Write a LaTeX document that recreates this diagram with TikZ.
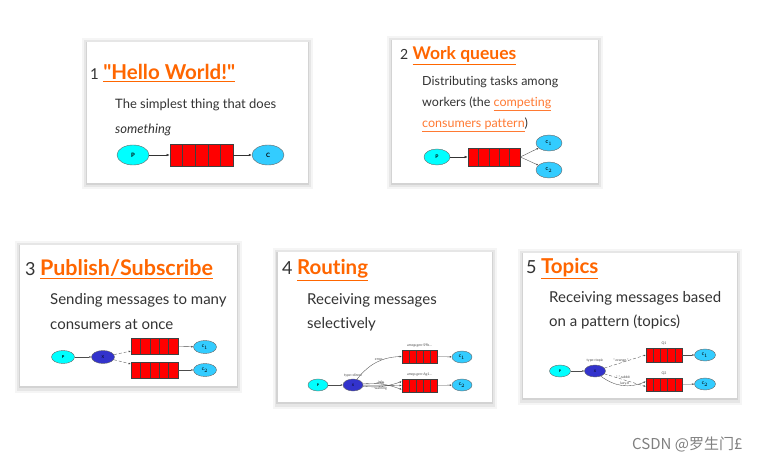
\documentclass[tikz,border=0pt]{standalone}
\usepackage{fontspec}
\setmainfont{Lato}[Ligatures=NoCommon]
\newfontfamily\headfont{Lato}[Ligatures=NoCommon]
\newfontfamily\cjkfont{Noto Sans CJK SC}
\usepackage{tikz}
\usetikzlibrary{positioning, shapes.geometric, calc, arrows.meta}

\definecolor{titleorange}{HTML}{FF6600}
\definecolor{linkorange}{HTML}{FF7A33}
\definecolor{bodytext}{HTML}{333333}
\definecolor{prodcyan}{HTML}{00FFFF}
\definecolor{conscyan}{HTML}{33CCFF}
\definecolor{exchblue}{HTML}{3333CC}
\definecolor{queuered}{HTML}{FF0000}

\begin{document}
\begin{tikzpicture}[x=1pt, y=-1pt]
        % Setup the styles for the cards and the small diagrams
        \tikzset{card/.style={fill=white, inner sep=0pt,
                              preaction={draw=black, line width=10pt, opacity=.04,
                                         transform canvas={yshift=-1.5pt}},
                              preaction={draw=black, line width=6pt, opacity=.06,
                                         transform canvas={yshift=-1.5pt}},
                              preaction={draw=black, line width=2.5pt, opacity=.08,
                                         transform canvas={yshift=-1pt}}},
                 num/.style={anchor=base west, inner sep=0pt, text=bodytext,
                             font=\fontsize{#1}{#1}\selectfont},
                 heading/.style={inner sep=0pt, text=titleorange,
                                 font=\fontsize{#1}{#1}\headfont\bfseries},
                 body/.style={anchor=base west, inner sep=0pt, text=bodytext,
                              font=\fontsize{#1}{#1}\selectfont},
                 proc/.style={ellipse, draw=black!60, fill=prodcyan, inner sep=0pt,
                              font=\fontsize{#1}{#1}\selectfont\bfseries},
                 cons/.style={ellipse, draw=black!60, fill=conscyan, inner sep=0pt,
                              font=\fontsize{#1}{#1}\selectfont\bfseries},
                 exch/.style={ellipse, draw=black!60, fill=exchblue, inner sep=0pt,
                              font=\fontsize{#1}{#1}\selectfont},
                 queue/.style={rectangle, draw=black!75, fill=queuered, inner sep=0pt,
                               line width=0.6pt,
                               path picture={\foreach \k in {0.2,0.4,0.6,0.8}
                                 \draw[black!75, line width=0.6pt]
                                   ($(path picture bounding box.south west)!\k!(path picture bounding box.south east)$)
                                   -- ($(path picture bounding box.north west)!\k!(path picture bounding box.north east)$);}},
                 tag/.style={inner sep=0.5pt, text=black!70, font=\fontsize{3.5}{4}\selectfont},
                 link arrow/.style={-{Latex[length=3pt, width=2.5pt]}, black!80, line width=0.5pt},
                 small arrow/.style={-{Latex[length=2pt, width=1.8pt]}, black!70, line width=0.35pt}}

        % Background and size
        \fill[white] (0,0) rectangle (768,462);

        % Draw the cards
        \node[card, minimum width=221, minimum height=141] (card1) at (197.5,112.5) {};
        \node[card, minimum width=206, minimum height=143] (card2) at (495,111.5) {};
        \node[card, minimum width=217, minimum height=141] (card3) at (128.5,315.5) {};
        \node[card, minimum width=214, minimum height=150] (card4) at (384.5,327) {};
        \node[card, minimum width=214, minimum height=145] (card5) at (630,325.5) {};

        % 1 "Hello World!"
        \node[num=15] (num1) at (90,80) {1};
        \node[heading=20.5, base right=4pt of num1] (title1) {\underline{"Hello World!"}};
        \node[body=13] (text1a) at (115,109) {The simplest thing that does};
        \node[body=13] (text1b) at (115,134) {\itshape something};
        \node[proc=6, minimum width=32, minimum height=20] (p1) at (133,155) {P};
        \node[queue, minimum width=63, minimum height=22] (q1) at (201.5,155) {};
        \node[cons=6, minimum width=32, minimum height=20] (c1) at (268,155) {C};
        \draw[link arrow] (p1) -- (q1);
        \draw[link arrow] (q1) -- (c1);

        % 2 Work queues
        \node[num=14] (num2) at (400,60) {2};
        \node[heading=17.5, base right=4pt of num2] (title2) {\underline{Work queues}};
        \node[body=12.5] (text2a) at (422,86) {Distributing tasks among};
        \node[body=12.5] (text2b) at (422,107) {workers (the \textcolor{linkorange}{\underline{competing}}};
        \node[body=12.5] (text2c) at (422,128) {\textcolor{linkorange}{\underline{consumers pattern}})};
        \node[proc=5, minimum width=26, minimum height=16] (p2) at (437,157) {P};
        \node[queue, minimum width=52, minimum height=18] (q2) at (494,157) {};
        \node[cons=4, minimum width=26, minimum height=16] (c21) at (549,143) {C$_1$};
        \node[cons=4, minimum width=26, minimum height=16] (c22) at (549,170) {C$_2$};
        \draw[link arrow] (p2) -- (q2);
        \draw[small arrow] (q2.east) -- (c21);
        \draw[small arrow] (q2.east) -- (c22);

        % 3 Publish/Subscribe
        \node[num=18] (num3) at (25,276) {3};
        \node[heading=21.5, base right=4pt of num3] (title3) {\underline{Publish/Subscribe}};
        \node[body=15] (text3a) at (50,305) {Sending messages to many};
        \node[body=15] (text3b) at (50,329) {consumers at once};
        \node[proc=4, minimum width=23, minimum height=13] (p3) at (63,357) {P};
        \node[exch=4, minimum width=23, minimum height=13] (x3) at (103,357) {X};
        \node[queue, minimum width=47, minimum height=16] (q31) at (154.5,346) {};
        \node[queue, minimum width=47, minimum height=16] (q32) at (154.5,370) {};
        \node[cons=3.5, minimum width=23, minimum height=13] (c31) at (205,347) {C$_1$};
        \node[cons=3.5, minimum width=23, minimum height=13] (c32) at (205,370) {C$_2$};
        \draw[small arrow] (p3) -- (x3);
        \draw[small arrow, densely dashed] (x3) -- (q31);
        \draw[small arrow, densely dashed] (x3) -- (q32);
        \draw[small arrow] (q31) -- (c31);
        \draw[small arrow] (q32) -- (c32);

        % 4 Routing
        \node[num=18] (num4) at (282,275) {4};
        \node[heading=20.5, base right=4pt of num4] (title4) {\underline{Routing}};
        \node[body=15] (text4a) at (307,304) {Receiving messages};
        \node[body=15] (text4b) at (307,328) {selectively};
        \node[proc=3.5, minimum width=20, minimum height=12] (p4) at (318,385) {P};
        \node[exch=3.5, minimum width=20, minimum height=12] (x4) at (353,385) {X};
        \node[queue, minimum width=35, minimum height=13] (q41) at (419.5,356.5) {};
        \node[queue, minimum width=35, minimum height=13] (q42) at (419.5,385.5) {};
        \node[cons=3.5, minimum width=20, minimum height=12] (c41) at (462,357) {C$_1$};
        \node[cons=3.5, minimum width=20, minimum height=12] (c42) at (462,385) {C$_2$};
        \node[tag, above=1.5pt of q41] {amqp.gen-S9b...};
        \node[tag, above=1.5pt of q42] {amqp.gen-Ag1...};
        \node[tag, above=1pt of x4] {type=direct};
        \draw[small arrow] (p4) -- (x4);
        \draw[small arrow] (x4) to[bend left=25] node[tag, above, pos=.55] {error} (q41.west);
        \draw[small arrow] (x4) to[bend left=12] node[tag, above, pos=.45] {info} ([yshift=-4pt]q42.west);
        \draw[small arrow] (x4) -- node[tag, above, pos=.45] {error} (q42.west);
        \draw[small arrow] (x4) to[bend right=12] node[tag, below, pos=.45] {warning} ([yshift=4pt]q42.west);
        \draw[small arrow] (q41) -- (c41);
        \draw[small arrow] (q42) -- (c42);

        % 5 Topics
        \node[num=18] (num5) at (526,273) {5};
        \node[heading=20.5, base right=4pt of num5] (title5) {\underline{Topics}};
        \node[body=15] (text5a) at (549,302) {Receiving messages based};
        \node[body=15] (text5b) at (549,326) {on a pattern (topics)};
        \node[proc=3.5, minimum width=21, minimum height=12] (p5) at (560,371) {P};
        \node[exch=3.5, minimum width=21, minimum height=12] (x5) at (595,371) {X};
        \node[queue, minimum width=36, minimum height=14] (q51) at (664,355) {};
        \node[queue, minimum width=36, minimum height=13] (q52) at (664,384.5) {};
        \node[cons=3.5, minimum width=21, minimum height=12] (c51) at (705,355) {C$_1$};
        \node[cons=3.5, minimum width=21, minimum height=12] (c52) at (705,384) {C$_2$};
        \node[tag, above=1.5pt of q51] {Q1};
        \node[tag, above=1.5pt of q52] {Q2};
        \node[tag, above=2pt of x5] {type=topic};
        \draw[small arrow] (p5) -- (x5);
        \draw[small arrow, densely dashed] (x5) -- node[tag, above, pos=.4] {*.orange.*} (q51.west);
        \draw[small arrow, densely dashed] (x5) -- node[tag, above, pos=.45] {*.*.rabbit} ([yshift=-2pt]q52.west);
        \draw[small arrow] (x5) to[bend right=30] node[tag, above, pos=.55] {lazy.\#} ([yshift=3pt]q52.west);
        \draw[small arrow] (q51) -- (c51);
        \draw[small arrow] (q52) -- (c52);

        % Watermark
        \node[anchor=base west, inner sep=0pt, text=black!50,
              font=\fontsize{15}{17}\cjkfont] (mark) at (632,449) {CSDN @罗生门£};
\end{tikzpicture}
\end{document}
